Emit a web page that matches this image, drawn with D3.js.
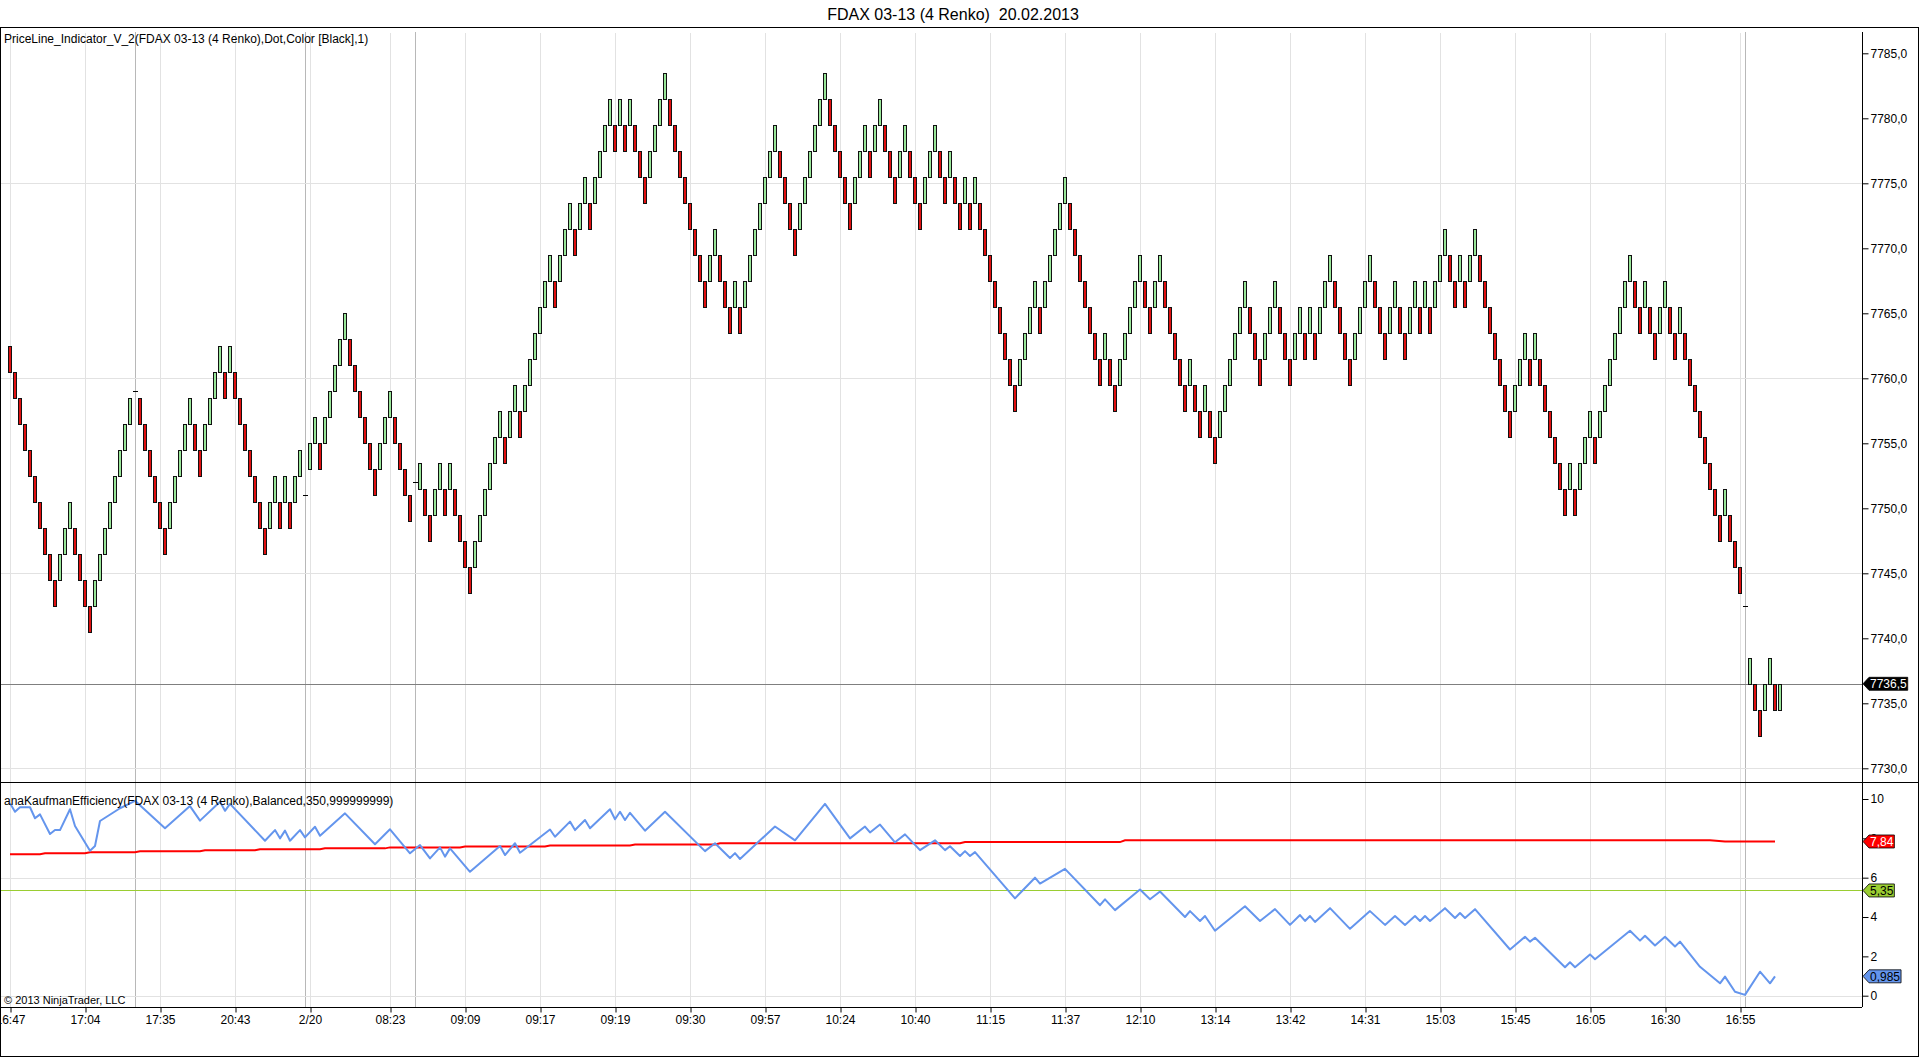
<!DOCTYPE html>
<html>
<head>
<meta charset="utf-8">
<title>FDAX 03-13 (4 Renko)</title>
<script src="https://d3js.org/d3.v7.min.js"></script>
<style>
body { margin: 0; background: #fff; }
svg text { font-family: Arial, "Liberation Sans", sans-serif; font-size: 12px; fill: #000; }
</style>
</head>
<body>
<div id="chart"></div>
<script>
// renko bricks, one per bar slot: low edge of the brick (brick = 2 points)
// flat bars (session start) hold the price of the small dash instead
var brickLow = [
  7760.5,7758.5,7756.5,7754.5,7752.5,7750.5,7748.5,7746.5,7744.5,7742.5,7744.5,7746.5,7748.5,7746.5,7744.5,
  7742.5,7740.5,7742.5,7744.5,7746.5,7748.5,7750.5,7752.5,7754.5,7756.5,7759,7756.5,7754.5,7752.5,7750.5,
  7748.5,7746.5,7748.5,7750.5,7752.5,7754.5,7756.5,7754.5,7752.5,7754.5,7756.5,7758.5,7760.5,7758.5,7760.5,
  7758.5,7756.5,7754.5,7752.5,7750.5,7748.5,7746.5,7748.5,7750.5,7748.5,7750.5,7748.5,7750.5,7752.5,7751,
  7753,7755,7753,7755,7757,7759,7761,7763,7761,7759,7757,7755,7753,7751,7753,
  7755,7757,7755,7753,7751,7749,7752,7751.5,7749.5,7747.5,7749.5,7751.5,7749.5,7751.5,7749.5,
  7747.5,7745.5,7743.5,7745.5,7747.5,7749.5,7751.5,7753.5,7755.5,7753.5,7755.5,7757.5,7755.5,7757.5,7759.5,
  7761.5,7763.5,7765.5,7767.5,7765.5,7767.5,7769.5,7771.5,7769.5,7771.5,7773.5,7771.5,7773.5,7775.5,7777.5,
  7779.5,7777.5,7779.5,7777.5,7779.5,7777.5,7775.5,7773.5,7775.5,7777.5,7779.5,7781.5,7779.5,7777.5,7775.5,
  7773.5,7771.5,7769.5,7767.5,7765.5,7767.5,7769.5,7767.5,7765.5,7763.5,7765.5,7763.5,7765.5,7767.5,7769.5,
  7771.5,7773.5,7775.5,7777.5,7775.5,7773.5,7771.5,7769.5,7771.5,7773.5,7775.5,7777.5,7779.5,7781.5,7779.5,
  7777.5,7775.5,7773.5,7771.5,7773.5,7775.5,7777.5,7775.5,7777.5,7779.5,7777.5,7775.5,7773.5,7775.5,7777.5,
  7775.5,7773.5,7771.5,7773.5,7775.5,7777.5,7775.5,7773.5,7775.5,7773.5,7771.5,7773.5,7771.5,7773.5,7771.5,
  7769.5,7767.5,7765.5,7763.5,7761.5,7759.5,7757.5,7759.5,7761.5,7763.5,7765.5,7763.5,7765.5,7767.5,7769.5,
  7771.5,7773.5,7771.5,7769.5,7767.5,7765.5,7763.5,7761.5,7759.5,7761.5,7759.5,7757.5,7759.5,7761.5,7763.5,
  7765.5,7767.5,7765.5,7763.5,7765.5,7767.5,7765.5,7763.5,7761.5,7759.5,7757.5,7759.5,7757.5,7755.5,7757.5,
  7755.5,7753.5,7755.5,7757.5,7759.5,7761.5,7763.5,7765.5,7763.5,7761.5,7759.5,7761.5,7763.5,7765.5,7763.5,
  7761.5,7759.5,7761.5,7763.5,7761.5,7763.5,7761.5,7763.5,7765.5,7767.5,7765.5,7763.5,7761.5,7759.5,7761.5,
  7763.5,7765.5,7767.5,7765.5,7763.5,7761.5,7763.5,7765.5,7763.5,7761.5,7763.5,7765.5,7763.5,7765.5,7763.5,
  7765.5,7767.5,7769.5,7767.5,7765.5,7767.5,7765.5,7767.5,7769.5,7767.5,7765.5,7763.5,7761.5,7759.5,7757.5,
  7755.5,7757.5,7759.5,7761.5,7759.5,7761.5,7759.5,7757.5,7755.5,7753.5,7751.5,7749.5,7751.5,7749.5,7751.5,
  7753.5,7755.5,7753.5,7755.5,7757.5,7759.5,7761.5,7763.5,7765.5,7767.5,7765.5,7763.5,7765.5,7763.5,7761.5,
  7763.5,7765.5,7763.5,7761.5,7763.5,7761.5,7759.5,7757.5,7755.5,7753.5,7751.5,7749.5,7747.5,7749.5,7747.5,
  7745.5,7743.5,7742.5,7736.5,7734.5,7732.5,7734.5,7736.5,7734.5,7734.5
];
// U = up brick, D = down brick, F = flat bar
var brickDir = (
  "DDDDDDDDDDUUUDD" + "DDUUUUUUUUFDDDD" + "DDUUUUUDDUUUUDU" + "DDDDDDDUUDUDUUF" +
  "UUDUUUUUDDDDDDU" + "UUDDDDFUDDUUDUD" + "DDDUUUUUUDUUDUU" + "UUUUDUUUDUUDUUU" +
  "UDUDUDDDUUUUDDD" + "DDDDDUUDDDUDUUU" + "UUUUDDDDUUUUUUD" + "DDDDUUUDUUDDDUU" +
  "DDDUUUDDUDDUDUD" + "DDDDDDDUUUUDUUU" + "UUDDDDDDDUDDUUU" + "UUDDUUDDDDDUDDU" +
  "DDUUUUUUDDDUUUD" + "DDUUDUDUUUDDDDU" + "UUUDDDUUDDUUDUD" + "UUUDDUDUUDDDDDD" +
  "DUUUDUDDDDDDUDU" + "UUDUUUUUUUDDUDD" + "UUDDUDDDDDDDDUD" + "DDFUDDUUDU"
).split("");

var lastPrice = 7736.5;
var sessionSlots = [25, 59, 81, 347];

var timeSlots  = [0, 15, 30, 45, 60, 76, 91, 106, 121, 136, 151, 166, 181, 196, 211, 226, 241, 256, 271, 286, 301, 316, 331, 346];
var timeLabels = ["16:47","17:04","17:35","20:43","2/20","08:23","09:09","09:17","09:19","09:30","09:57","10:24",
                  "10:40","11:15","11:37","12:10","13:14","13:42","14:31","15:03","15:45","16:05","16:30","16:55"];

var priceTicks = [7730, 7735, 7740, 7745, 7750, 7755, 7760, 7765, 7770, 7775, 7780, 7785];
var priceGrid  = [7730, 7745, 7760, 7775];
var effTicks   = [0, 2, 4, 6, 8, 10];
var effGrid    = [0, 6];

// efficiency line, vertices [slot, value]
var effLine = [
  [0,9.78],[1,9.35],[2,9.58],[4,9.58],[5,9.02],[6,9.22],[8,8.22],[9,8.42],[10,8.42],[12,9.48],[13,8.63],
  [16,7.37],[17,7.61],[18,8.88],[22,9.53],[24,9.78],[25,9.91],[31,8.51],[36,9.64],[38,8.90],[42,9.86],
  [43,9.40],[44,9.75],[51,7.88],[53,8.42],[54,8.00],[55,8.39],[56,7.88],[58,8.42],[59,8.05],[61,8.59],
  [62,8.13],[67,9.27],[73,7.70],[76,8.46],[80,7.24],[82,7.66],[84,6.98],[86,7.54],[87,7.07],[88,7.49],
  [92,6.30],[98,7.61],[99,7.15],[101,7.75],[102,7.27],[108,8.45],[109,8.08],[112,8.85],[113,8.42],
  [115,8.93],[116,8.51],[120,9.48],[121,8.97],[122,9.35],[123,8.93],[124,9.30],[127,8.39],[131,9.35],
  [139,7.35],[141,7.75],[144,7.00],[145,7.25],[146,6.95],[153,8.60],[157,7.90],[163,9.75],[168,8.00],
  [171,8.60],[172,8.30],[174,8.70],[177,7.80],[179,8.20],[182,7.40],[185,7.90],[187,7.40],[188,7.60],
  [190,7.10],[191,7.35],[192,7.10],[193,7.30],[201,4.95],[205,6.00],[206,5.70],[211,6.45],[218,4.60],
  [219,4.90],[221,4.35],[226,5.40],[228,4.90],[230,5.30],[235,4.00],[236,4.30],[238,3.80],[239,4.05],
  [241,3.30],[247,4.55],[250,3.80],[253,4.40],[256,3.60],[258,4.10],[259,3.80],[260,4.05],[261,3.75],
  [264,4.45],[268,3.40],[272,4.30],[275,3.60],[277,4.05],[279,3.60],[281,4.05],[282,3.80],[283,4.05],
  [284,3.80],[287,4.45],[289,3.95],[290,4.20],[291,3.95],[293,4.40],[300,2.35],[303,3.00],[304,2.75],
  [305,2.95],[311,1.45],[312,1.70],[313,1.45],[316,2.10],[317,1.85],[324,3.30],[326,2.80],[327,3.05],
  [329,2.55],[331,3.00],[333,2.50],[334,2.75],[338,1.47],[342,0.63],[343,0.97],[345,0.20],[347,0.04],
  [350,1.22],[352,0.63],[353,0.985]
];
// slow (red) line, vertices [slot, value]
var slowLine = [
  [0,7.19],[6,7.19],[7,7.24],[15,7.24],[16,7.29],[25,7.29],[26,7.34],[38,7.34],[39,7.39],[49,7.39],
  [50,7.44],[62,7.44],[63,7.49],[75,7.49],[76,7.54],[90,7.54],[91,7.59],[107,7.59],[108,7.64],[124,7.64],
  [125,7.69],[141,7.69],[142,7.75],[190,7.75],[191,7.81],[222,7.81],[223,7.90],[340,7.90],[343,7.84],[353,7.84]
];
var levelLine = 5.35;

var W = 1920, H = 1057;
var axisX = 1862, topY = 27, sepY = 782, botY = 1007;

var svg = d3.select("#chart").append("svg")
  .attr("width", W)
  .attr("height", H);

var x  = d3.scaleLinear().domain([0, 354]).range([10, 1780]);
var y  = d3.scaleLinear().domain([7730, 7785]).range([768.3, 53.3]);
var yE = d3.scaleLinear().domain([0, 10]).range([995.7, 799]);
var px = function(v) { return Math.round(v) + 0.5; };

svg.append("clipPath").attr("id", "cp").append("rect")
  .attr("x", 1).attr("y", topY + 1).attr("width", axisX - 1).attr("height", sepY - topY - 1);
svg.append("clipPath").attr("id", "ci").append("rect")
  .attr("x", 1).attr("y", sepY + 1).attr("width", axisX - 1).attr("height", botY - sepY - 1);

// grid
var grid = svg.append("g").attr("shape-rendering", "crispEdges");
grid.selectAll("line.vg").data(timeSlots).enter().append("line")
  .attr("x1", d => px(x(d))).attr("x2", d => px(x(d)))
  .attr("y1", topY + 6).attr("y2", botY)
  .attr("stroke", "#e2e2e2");
grid.selectAll("line.ss").data(sessionSlots).enter().append("line")
  .attr("x1", d => px(x(d))).attr("x2", d => px(x(d)))
  .attr("y1", topY + 5).attr("y2", botY)
  .attr("stroke", "#b8b8b8");
grid.selectAll("line.pg").data(priceGrid).enter().append("line")
  .attr("x1", 0).attr("x2", axisX)
  .attr("y1", d => px(y(d))).attr("y2", d => px(y(d)))
  .attr("stroke", "#e2e2e2");
grid.selectAll("line.eg").data(effGrid).enter().append("line")
  .attr("x1", 0).attr("x2", axisX)
  .attr("y1", d => px(yE(d))).attr("y2", d => px(yE(d)))
  .attr("stroke", "#e2e2e2");

// last price line
svg.append("line")
  .attr("x1", 0).attr("x2", axisX)
  .attr("y1", px(y(lastPrice))).attr("y2", px(y(lastPrice)))
  .attr("stroke", "#7f7f7f").attr("shape-rendering", "crispEdges");

// bricks
var bars = brickLow.map((v, i) => ({ i: i, low: v, dir: brickDir[i] }));
var pg = svg.append("g").attr("clip-path", "url(#cp)");
pg.selectAll("rect.brick").data(bars.filter(d => d.dir !== "F")).enter().append("rect")
  .attr("class", "brick")
  .attr("x", d => Math.round(x(d.i)) - 1.5)
  .attr("width", 3)
  .attr("y", d => px(y(d.low + 2)))
  .attr("height", d => px(y(d.low)) - px(y(d.low + 2)))
  .attr("fill", d => d.dir === "U" ? "#98e698" : "#e01010")
  .attr("stroke", "#111")
  .attr("shape-rendering", "crispEdges");
pg.selectAll("line.flat").data(bars.filter(d => d.dir === "F")).enter().append("line")
  .attr("x1", d => Math.round(x(d.i)) - 2).attr("x2", d => Math.round(x(d.i)) + 3)
  .attr("y1", d => px(y(d.low))).attr("y2", d => px(y(d.low)))
  .attr("stroke", "#000").attr("shape-rendering", "crispEdges");

// indicator panel
var ig = svg.append("g").attr("clip-path", "url(#ci)");
ig.append("line")
  .attr("x1", 0).attr("x2", axisX)
  .attr("y1", px(yE(levelLine))).attr("y2", px(yE(levelLine)))
  .attr("stroke", "#9acd32").attr("shape-rendering", "crispEdges");
var line = d3.line().x(d => x(d[0])).y(d => yE(d[1]));
ig.append("path").datum(slowLine).attr("d", line)
  .attr("fill", "none").attr("stroke", "#ff0000").attr("stroke-width", 2);
ig.append("path").datum(effLine).attr("d", line)
  .attr("fill", "none").attr("stroke", "#6495ed").attr("stroke-width", 2)
  .attr("stroke-linejoin", "round");

// axes
var fmtPrice = d => d3.format(".1f")(d).replace(".", ",");
var ap = svg.append("g").attr("transform", "translate(" + (axisX + 0.5) + ",0)")
  .call(d3.axisRight(y).tickValues(priceTicks).tickSize(6).tickPadding(2).tickFormat(fmtPrice));
var ae = svg.append("g").attr("transform", "translate(" + (axisX + 0.5) + ",0)")
  .call(d3.axisRight(yE).tickValues(effTicks).tickSize(6).tickPadding(2).tickFormat(d3.format("d")));
var at = svg.append("g").attr("transform", "translate(0," + (botY + 0.5) + ")")
  .call(d3.axisBottom(x).tickValues(timeSlots).tickSize(5).tickPadding(3).tickFormat((d, i) => timeLabels[i]));
[ap, ae, at].forEach(function(g) {
  g.select(".domain").remove();
  g.selectAll("text").attr("font-size", null).attr("font-family", null);
  g.selectAll(".tick line").attr("stroke", "#000");
  g.attr("font-size", null).attr("font-family", null);
});
at.selectAll(".tick line").attr("transform", d => "translate(" + (Math.round(x(d)) + 0.5 - x(d)) + ",0)");

// frame lines
var frame = svg.append("g").attr("stroke", "#000").attr("shape-rendering", "crispEdges");
frame.append("rect").attr("x", 0.5).attr("y", topY + 0.5).attr("width", W - 2).attr("height", H - topY - 1.5)
  .attr("fill", "none");
frame.append("line").attr("x1", 0).attr("x2", W - 1).attr("y1", sepY + 0.5).attr("y2", sepY + 0.5);
frame.append("line").attr("x1", 0).attr("x2", axisX).attr("y1", botY + 0.5).attr("y2", botY + 0.5);
frame.append("line").attr("x1", axisX + 0.5).attr("x2", axisX + 0.5).attr("y1", topY + 5).attr("y2", botY);

// value markers on the right axis
function marker(yv, label, fill, color) {
  var g = svg.append("g");
  var t = g.append("text").attr("x", axisX + 8).attr("y", yv).attr("dy", "0.36em")
    .style("fill", color).text(label);
  var w = t.node().getComputedTextLength();
  var x0 = axisX + 1, x1 = axisX + 7, x2 = x1 + w + 2, h = 6.5;
  g.insert("path", "text")
    .attr("d", "M" + x0 + "," + yv + "L" + x1 + "," + (yv - h) + "L" + x2 + "," + (yv - h) +
               "L" + x2 + "," + (yv + h) + "L" + x1 + "," + (yv + h) + "Z")
    .attr("fill", fill).attr("stroke", "#000").attr("stroke-width", 0.8);
}
marker(y(lastPrice), "7736,5", "#000", "#fff");
marker(yE(7.84), "7,84", "#ff0000", "#fff");
marker(yE(levelLine), "5,35", "#9acd32", "#000");
marker(yE(0.985), "0,985", "#6495ed", "#000");

// texts
svg.append("text").attr("x", 953).attr("y", 20).attr("text-anchor", "middle")
  .style("font-size", "16px").style("white-space", "pre")
  .text("FDAX 03-13 (4 Renko)  20.02.2013");
svg.append("text").attr("x", 4).attr("y", 43)
  .text("PriceLine_Indicator_V_2(FDAX 03-13 (4 Renko),Dot,Color [Black],1)");
svg.append("text").attr("x", 4).attr("y", 805)
  .text("anaKaufmanEfficiency(FDAX 03-13 (4 Renko),Balanced,350,999999999)");
svg.append("text").attr("x", 4).attr("y", 1004).style("font-size", "11px")
  .text("\u00a9 2013 NinjaTrader, LLC");
</script>
</body>
</html>
